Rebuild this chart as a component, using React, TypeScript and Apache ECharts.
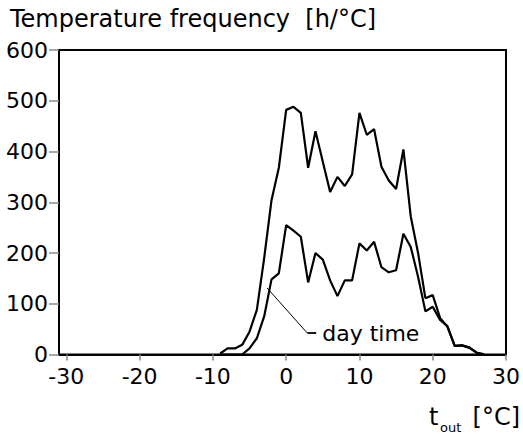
import React, { useEffect, useRef } from "react";
import * as echarts from "echarts";

const temps = [-9, -8, -7, -6, -5, -4, -3, -2, -1, 0, 1, 2, 3, 4, 5, 6, 7, 8, 9, 10, 11, 12, 13, 14, 15, 16, 17, 18, 19, 20, 21, 22, 23, 24, 25, 26, 27];
const totalHours = [2, 12, 12, 19, 45, 88, 190, 304, 368, 482, 488, 476, 368, 440, 380, 320, 350, 332, 355, 476, 433, 444, 370, 343, 326, 404, 272, 200, 111, 117, 72, 55, 17, 18, 13, 4, 0];
const dayHours = [0, 0, 0, 0, 12, 32, 75, 148, 160, 255, 244, 232, 142, 200, 187, 146, 115, 146, 146, 219, 205, 222, 172, 162, 166, 238, 212, 153, 85, 94, 68, 56, 17, 18, 14, 3, 1];
const xTickLabels = [-30, -20, -10, 0, 10, 20, 30];
const titleText = "Temperature frequency  [h/°C]";
const dayLabel = "day time";
// annotation anchor points (data space)
const leaderStart = [-2.6, 131];
const leaderEnd = [2.9, 42];
const dashEnd = [4.1, 42];

const FONT = "DejaVu Sans";

export default function App() {
  const ref = useRef<HTMLDivElement>(null);
  useEffect(() => {
    if (!ref.current) return;
    const chart = echarts.init(ref.current, undefined, { renderer: "svg" });
    const totalData = temps.map((t, i) => [t, totalHours[i]]);
    const dayData = temps.map((t, i) => [t, dayHours[i]]);
    chart.setOption({
      animation: false,
      backgroundColor: "#fff",
      grid: {
        left: 59,
        right: 13,
        top: 50,
        bottom: 80.5,
        show: true,
        borderColor: "#000",
        borderWidth: 2,
        backgroundColor: "transparent",
      },
      xAxis: {
        type: "value",
        min: -31,
        max: 30,
        splitLine: { show: false },
        axisLine: { show: true, onZero: false, lineStyle: { color: "#000", width: 2 } },
        axisTick: {
          show: true,
          customValues: xTickLabels,
          length: 6,
          lineStyle: { color: "#888", width: 1.5 },
        },
        axisLabel: {
          customValues: xTickLabels,
          margin: 11,
          fontSize: 22,
          fontFamily: FONT,
          color: "#000",
        },
      },
      yAxis: {
        type: "value",
        min: 0,
        max: 600,
        interval: 100,
        splitLine: { show: false },
        axisLine: { show: true, onZero: false, lineStyle: { color: "#000", width: 2 } },
        axisTick: { show: true, length: 10, lineStyle: { color: "#888", width: 1.5 } },
        axisLabel: {
          margin: 11,
          fontSize: 22,
          fontFamily: FONT,
          color: "#000",
        },
      },
      series: [
        {
          type: "line",
          data: totalData,
          showSymbol: false,
          symbol: "none",
          lineStyle: { color: "#000", width: 2.2 },
          silent: true,
        },
        {
          type: "line",
          data: dayData,
          showSymbol: false,
          symbol: "none",
          lineStyle: { color: "#000", width: 2.2 },
          silent: true,
          markLine: {
            silent: true,
            symbol: "none",
            animation: false,
            label: { show: false },
            lineStyle: { color: "#000", width: 1, type: "solid" },
            emphasis: { disabled: true },
            data: [
              [{ coord: leaderStart }, { coord: leaderEnd }],
              [{ coord: leaderEnd, lineStyle: { width: 1.8, color: "#000", type: "solid" } }, { coord: dashEnd }],
            ],
          },
          markPoint: {
            silent: true,
            animation: false,
            symbol: "circle",
            symbolSize: 0,
            data: [
              {
                coord: dashEnd,
                label: {
                  show: true,
                  position: "right",
                  distance: 6,
                  formatter: dayLabel,
                  fontSize: 22,
                  fontFamily: FONT,
                  color: "#000",
                },
              },
            ],
          },
        },
      ],
      graphic: [
        {
          type: "text",
          x: 10,
          y: 7,
          style: { text: titleText, fontSize: 24, fontFamily: FONT, fill: "#000", align: "left", verticalAlign: "top" },
        },
        {
          type: "text",
          x: 429,
          y: 405,
          style: { text: "t", fontSize: 24, fontFamily: FONT, fill: "#000", align: "left", verticalAlign: "top" },
        },
        {
          type: "text",
          x: 440,
          y: 421,
          style: { text: "out", fontSize: 13, fontFamily: FONT, fill: "#000", align: "left", verticalAlign: "top" },
        },
        {
          type: "text",
          x: 520,
          y: 405,
          style: { text: "[°C]", fontSize: 24, fontFamily: FONT, fill: "#000", align: "right", verticalAlign: "top" },
        },
      ],
    });
    return () => chart.dispose();
  }, []);
  return (
    <div
      ref={ref}
      style={{ position: "fixed", left: 0, top: 0, width: 523, height: 435, background: "#fff" }}
    />
  );
}
